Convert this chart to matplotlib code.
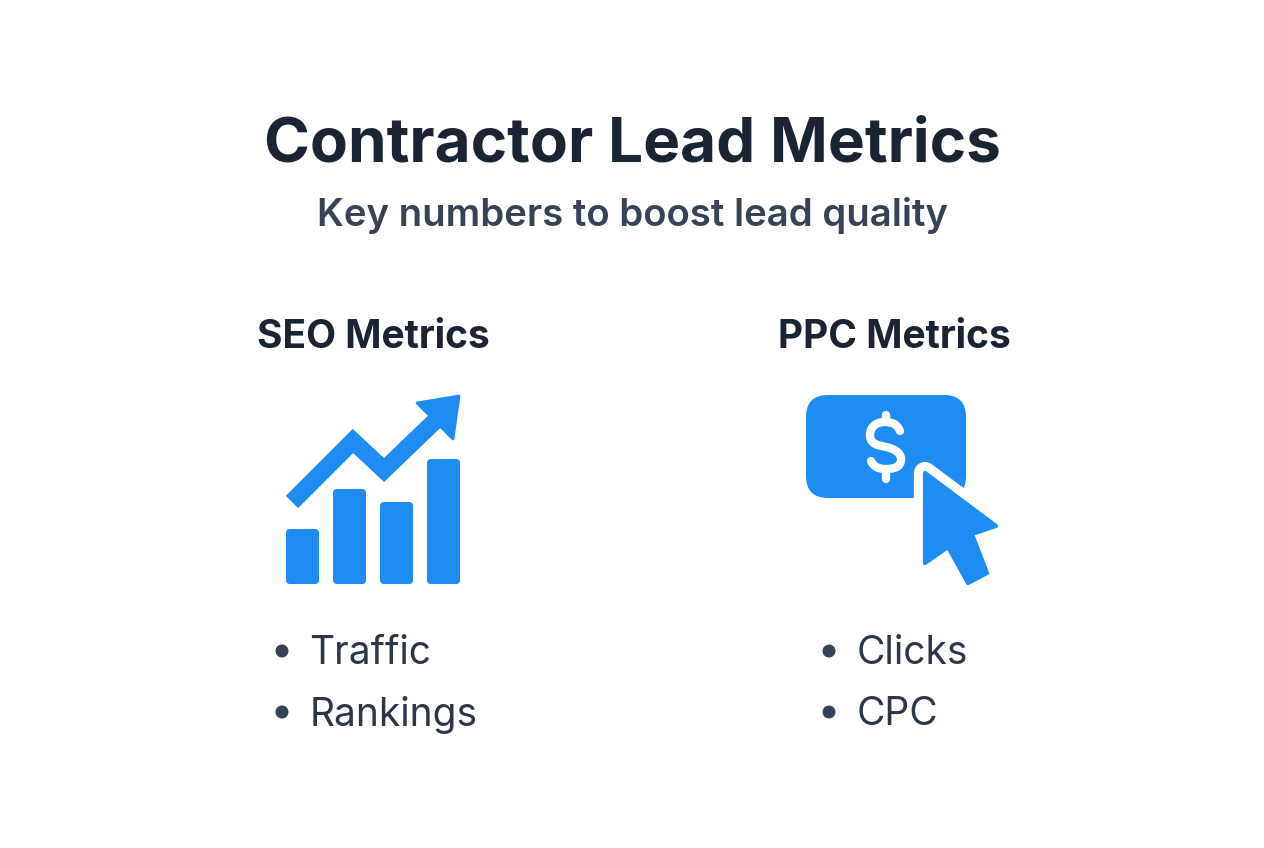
import matplotlib
matplotlib.use("Agg")
import matplotlib.pyplot as plt
from matplotlib.patches import FancyBboxPatch, Polygon, Circle, PathPatch
from matplotlib.path import Path

# ===== DATA =====
title = "Contractor Lead Metrics"
subtitle = "Key numbers to boost lead quality"
seo_title = "SEO Metrics"
ppc_title = "PPC Metrics"
seo_items = ["Traffic", "Rankings"]
ppc_items = ["Clicks", "CPC"]
seo_bar_heights = [55, 95, 82, 125]

# ===== COLORS =====
blue = "#1e8cf2"
dark = "#1a2433"
mid = "#374355"
list_color = "#2b3646"

plt.rcParams["font.family"] = ["Inter", "DejaVu Sans"]

fig = plt.figure(figsize=(12.64, 8.48), dpi=100)
ax = fig.add_axes([0, 0, 1, 1])
ax.set_xlim(0, 1264)
ax.set_ylim(848, 0)
ax.axis("off")


def rounded(x0, y0, w, h, r, color):
    ax.add_patch(FancyBboxPatch((x0 + r, y0 + r), w - 2 * r, h - 2 * r,
                                boxstyle=f"round,pad={r},rounding_size={r}",
                                facecolor=color, edgecolor="none"))


# ===== HEADINGS =====
ax.text(632, 145, title, fontsize=44.7, fontweight="bold", color=dark, ha="center", va="center")
ax.text(632, 216, subtitle, fontsize=27.6, fontweight="semibold", color=mid, ha="center", va="center")
ax.text(373, 337, seo_title, fontsize=28, fontweight="bold", color=dark, ha="center", va="center")
ax.text(894, 337, ppc_title, fontsize=28, fontweight="bold", color=dark, ha="center", va="center")

# ===== SEO ICON =====
for left, height in zip([286, 333, 380, 427], seo_bar_heights):
    rounded(left, 584 - height, 33, height, 4, blue)

ax.plot([292, 353, 384, 435], [502, 441, 470, 421], color=blue, lw=12.5,
        solid_joinstyle="miter", solid_capstyle="butt")
ax.add_patch(Polygon([(459, 396), (417, 403), (453, 439)], closed=True, facecolor=blue,
                     edgecolor=blue, lw=2, joinstyle="round"))

# ===== PPC ICON =====
rounded(806, 395, 160, 103, 22, blue)

# dollar sign: S stroke plus top and bottom ticks
s_curve = Path(
    [(900, 431), (897, 424), (892, 422), (885, 422),
     (876, 422), (870, 427), (870, 435),
     (870, 444), (877, 445), (886, 447),
     (896, 449), (901, 454), (901, 459),
     (901, 467), (895, 469), (885, 469),
     (878, 469), (873, 466), (871, 461)],
    [Path.MOVETO, Path.CURVE4, Path.CURVE4, Path.CURVE4,
     Path.CURVE4, Path.CURVE4, Path.CURVE4,
     Path.CURVE4, Path.CURVE4, Path.CURVE4,
     Path.CURVE4, Path.CURVE4, Path.CURVE4,
     Path.CURVE4, Path.CURVE4, Path.CURVE4,
     Path.CURVE4, Path.CURVE4, Path.CURVE4])
ax.add_patch(PathPatch(s_curve, facecolor="none", edgecolor="white", lw=6, capstyle="round"))
ax.plot([886, 886], [415, 422], color="white", lw=6, solid_capstyle="round")
ax.plot([886, 886], [469, 479], color="white", lw=6, solid_capstyle="round")

cursor = [(925, 473), (996, 526), (972, 534), (987, 573), (968, 583), (948, 547), (925, 563)]
ax.add_patch(Polygon(cursor, closed=True, facecolor="white", edgecolor="white", lw=16, joinstyle="round"))
ax.add_patch(Polygon(cursor, closed=True, facecolor=blue, edgecolor=blue, lw=3, joinstyle="round"))

# ===== LISTS =====
for x_dot, x_text, items in [(282, 309.5, seo_items), (829, 857, ppc_items)]:
    for y, item in zip([651, 712], items):
        ax.add_patch(Circle((x_dot, y), 6.5, facecolor=mid, edgecolor="none"))
        ax.text(x_text, y + 2.5, item, fontsize=28, color=list_color, ha="left", va="center")

fig.savefig("out.png", dpi=100, facecolor="white")
